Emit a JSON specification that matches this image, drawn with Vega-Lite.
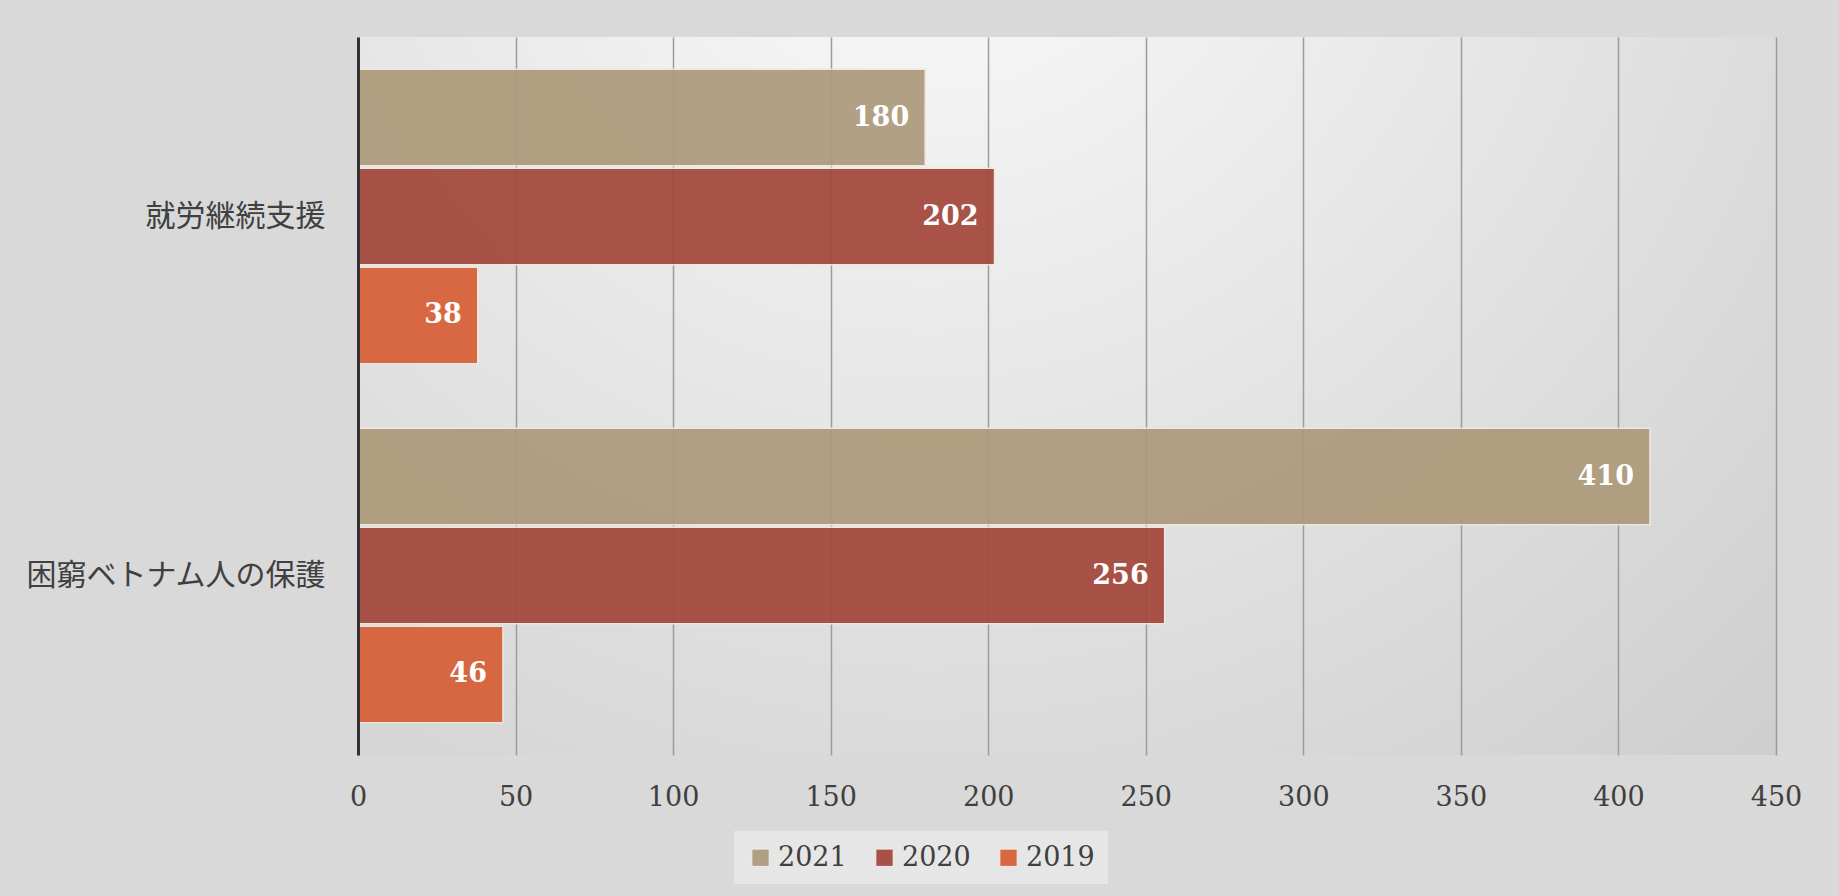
{
  "$schema": "https://vega.github.io/schema/vega-lite/v6.json",
  "width": 1418,
  "height": 718,
  "autosize": {"type": "none"},
  "padding": {"left": 358, "top": 37, "right": 63, "bottom": 141},
  "background": "#d9d9d9",
  "config": {
    "view": {
      "stroke": null,
      "fill": {
        "gradient": "radial",
        "x1": 0.4, "y1": 0.1, "r1": 0,
        "x2": 0.4, "y2": 0.1, "r2": 0.95,
        "stops": [
          {"offset": 0, "color": "#fcfcfc"},
          {"offset": 1, "color": "#cbcbcb"}
        ]
      }
    }
  },
  "data": {
    "values": [
      {"category": "就労継続支援", "year": "2021", "value": 180},
      {"category": "就労継続支援", "year": "2020", "value": 202},
      {"category": "就労継続支援", "year": "2019", "value": 38},
      {"category": "困窮ベトナム人の保護", "year": "2021", "value": 410},
      {"category": "困窮ベトナム人の保護", "year": "2020", "value": 256},
      {"category": "困窮ベトナム人の保護", "year": "2019", "value": 46}
    ]
  },
  "encoding": {
    "y": {
      "field": "category",
      "type": "nominal",
      "sort": ["就労継続支援", "困窮ベトナム人の保護"],
      "title": null,
      "scale": {"paddingInner": 0.18, "paddingOuter": 0.09},
      "axis": {
        "domain": true,
        "domainColor": "#333333",
        "domainWidth": 3,
        "ticks": false,
        "grid": false,
        "zindex": 1,
        "labelFont": "Noto Sans CJK JP",
        "labelFontSize": 30,
        "labelColor": "#404040",
        "labelPadding": 33,
        "labelLimit": 400
      }
    },
    "yOffset": {
      "field": "year",
      "type": "nominal",
      "sort": ["2021", "2020", "2019"],
      "scale": {"paddingInner": 0.025}
    },
    "x": {
      "field": "value",
      "type": "quantitative",
      "scale": {"domain": [0, 450], "nice": false},
      "title": null,
      "axis": {
        "values": [0, 50, 100, 150, 200, 250, 300, 350, 400, 450],
        "grid": true,
        "gridColor": "#9c9c9c",
        "gridWidth": 1.5,
        "domain": false,
        "ticks": false,
        "labelFlush": false,
        "labelPadding": 29,
        "labelFont": "DejaVu Serif",
        "labelFontSize": 27,
        "labelColor": "#404040"
      }
    }
  },
  "layer": [
    {
      "mark": {"type": "bar", "stroke": "#eee8e0", "strokeWidth": 1.5, "opacity": 0.93},
      "encoding": {
        "color": {
          "field": "year",
          "type": "nominal",
          "scale": {
            "domain": ["2021", "2020", "2019"],
            "range": ["#ad9a7b", "#a4473c", "#d75f35"]
          },
          "legend": {
            "orient": "none",
            "direction": "horizontal",
            "legendX": 376,
            "legendY": 794,
            "title": null,
            "fillColor": "#e6e6e6",
            "padding": 13,
            "symbolType": "square",
            "symbolSize": 300,
            "symbolStrokeColor": "#f0f0f0",
            "symbolStrokeWidth": 1,
            "labelFont": "DejaVu Serif",
            "labelFontSize": 27,
            "labelColor": "#404040",
            "columnPadding": 24,
            "symbolOffset": 0
          }
        }
      }
    },
    {
      "mark": {
        "type": "text",
        "align": "right",
        "baseline": "middle",
        "dx": -16,
        "color": "#ffffff",
        "font": "DejaVu Serif",
        "fontWeight": "bold",
        "fontSize": 27
      },
      "encoding": {"text": {"field": "value", "type": "quantitative"}}
    }
  ]
}
